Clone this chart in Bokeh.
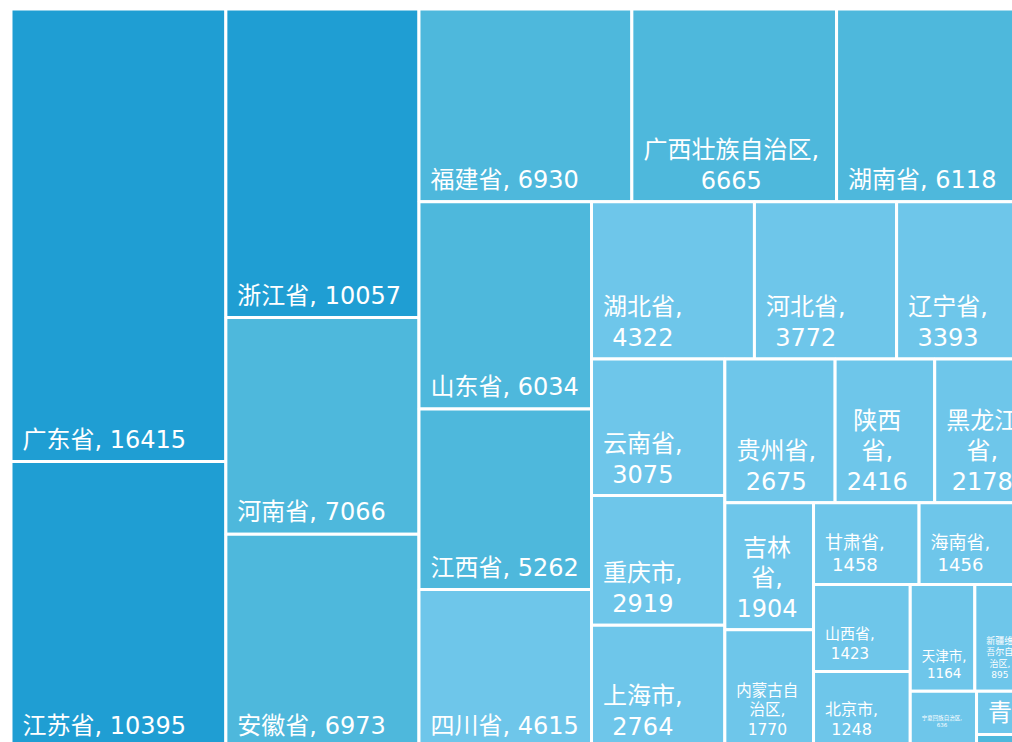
from bokeh.plotting import figure
from bokeh.models import Range1d, ColumnDataSource
from bokeh.embed import file_html
from bokeh.resources import INLINE
from bokeh.core.properties import value

# ---------------- data ----------------
names = ["广东省", "江苏省", "浙江省", "河南省", "安徽省", "福建省", "广西壮族自治区", "湖南省",
         "山东省", "江西省", "四川省", "湖北省", "河北省", "辽宁省", "云南省", "重庆市", "上海市",
         "贵州省", "陕西省", "黑龙江省", "吉林省", "内蒙古自治区", "甘肃省", "海南省", "山西省",
         "北京市", "天津市", "新疆维吾尔自治区", "宁夏回族自治区", "青海省", "西藏自治区"]
values = [16415, 10395, 10057, 7066, 6973, 6930, 6665, 6118,
          6034, 5262, 4615, 4322, 3772, 3393, 3075, 2919, 2764,
          2675, 2416, 2178, 1904, 1770, 1458, 1456, 1423,
          1248, 1164, 895, 636, 350, 110]
tiers = [3, 3, 3, 2, 2, 2, 2, 2,
         2, 2, 1, 1, 1, 1, 1, 1, 1,
         1, 1, 1, 1, 1, 1, 1, 1,
         1, 1, 1, 1, 1, 2]

# ---------------- layout / style ----------------
groups = [2, 3, 3, 3, 3, 3, 3, 2, 2, 2, 2, 1, 1, 1]
tier_colors = {1: "#6EC6EA", 2: "#4EB8DC", 3: "#1F9ED3"}
font_sizes = {"甘肃省": 18, "海南省": 18, "山西省": 15, "北京市": 16, "内蒙古自治区": 15.5,
              "天津市": 13.5, "新疆维吾尔自治区": 9, "宁夏回族自治区": 5.5}
# how the name part of a label is split over lines (value goes on its own last line)
splits = {"广西壮族自治区": [7], "湖北省": [3], "河北省": [3], "辽宁省": [3], "云南省": [3],
          "重庆市": [3], "上海市": [3], "贵州省": [3], "陕西省": [2, 1], "黑龙江省": [3, 1],
          "吉林省": [2, 1], "内蒙古自治区": [4, 2], "甘肃省": [3], "海南省": [3], "山西省": [3],
          "北京市": [3], "天津市": [3], "新疆维吾尔自治区": [3, 3, 2], "宁夏回族自治区": [7]}
bottom_pad = {"宁夏回族自治区": 21}
no_label = {"西藏自治区"}

X0, Y0, W, H = 10.5, 8.5, 1013.5, 739.0


def layout(vals, grps, x0, y0, w, h):
    scale = w * h / sum(vals)
    rects, i = [], 0
    for g in grps:
        chunk = vals[i:i + g]
        s = sum(chunk) * scale
        if w >= h:
            cw = s / h
            yy = y0
            for v in chunk:
                hh = v * scale / cw
                rects.append((x0, yy, x0 + cw, yy + hh))
                yy += hh
            x0 += cw
            w -= cw
        else:
            rh = s / w
            xx = x0
            for v in chunk:
                ww = v * scale / rh
                rects.append((xx, y0, xx + ww, y0 + rh))
                xx += ww
            y0 += rh
            h -= rh
        i += g
    return rects


def text_width(s, f):
    t = 0.0
    for c in s:
        if ord(c) > 0x2E80:
            t += f
        elif c in ", ":
            t += 0.32 * f
        else:
            t += 0.64 * f
    return t


rects = layout(values, groups, X0, Y0, W, H)

box = ColumnDataSource(dict(
    left=[r[0] for r in rects], right=[r[2] for r in rects],
    top=[r[1] for r in rects], bottom=[r[3] for r in rects],
    color=[tier_colors[t] for t in tiers], name=names, val=values))

single = dict(x=[], y=[], text=[], fs=[])
multi = dict(x=[], y=[], text=[], fs=[])
for n, v, r in zip(names, values, rects):
    if n in no_label:
        continue
    f = font_sizes.get(n, 24)
    pad = bottom_pad.get(n, 13) + 0.37 * f
    base = r[3] - pad
    left = r[0] + 11.5
    if n not in splits:
        single["x"].append(left)
        single["y"].append(base)
        single["text"].append(f"{n}, {v}")
        single["fs"].append(f"{f}px")
    else:
        lines, k = [], 0
        for c in splits[n]:
            lines.append(n[k:k + c])
            k += c
        lines[-1] = lines[-1] + ","
        lines.append(str(v))
        bw = max(text_width(s, f) for s in lines)
        cx = left + bw / 2
        lh = 1.25 * f
        m = len(lines)
        for j, s in enumerate(lines):
            multi["x"].append(cx)
            multi["y"].append(base - (m - 1 - j) * lh)
            multi["text"].append(s)
            multi["fs"].append(f"{f}px")

p = figure(width=1012, height=742, output_backend="svg", toolbar_location=None,
           x_range=Range1d(0, 1012), y_range=Range1d(742, 0),
           min_border=0, outline_line_color=None, background_fill_color="white",
           border_fill_color="white")
p.axis.visible = False
p.grid.visible = False

p.quad(left="left", right="right", top="top", bottom="bottom", source=box,
       fill_color="color", line_color="white", line_width=3)

font = value("DejaVu Sans, Noto Sans CJK SC")
p.text(x="x", y="y", text="text", source=ColumnDataSource(single), text_color="white",
       text_font=font, text_font_size="fs", text_align="left", text_baseline="alphabetic")
p.text(x="x", y="y", text="text", source=ColumnDataSource(multi), text_color="white",
       text_font=font, text_font_size="fs", text_align="center", text_baseline="alphabetic")

open("out.html", "w").write(file_html(p, INLINE))
